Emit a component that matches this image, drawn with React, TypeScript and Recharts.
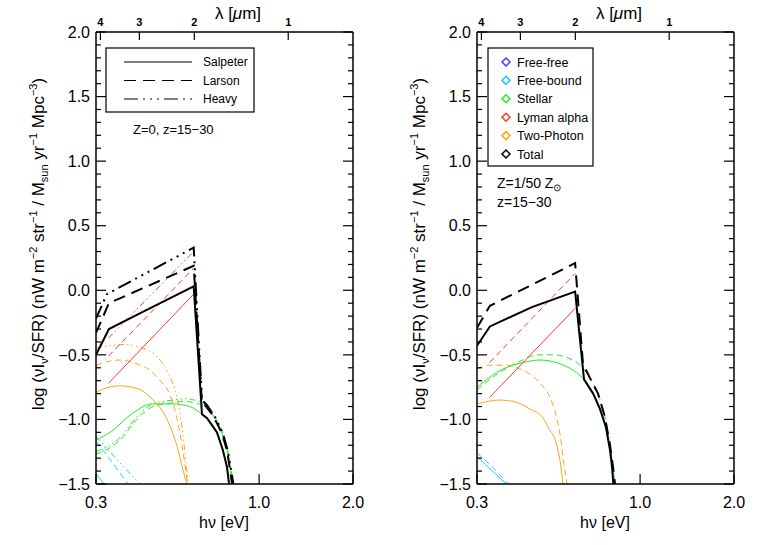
import { Line, LineChart, XAxis, YAxis } from "recharts";

const FONT = "'Liberation Sans', Arial, sans-serif";

// axes
const energyTicks = [0.3, 1.0, 2.0];
const lambdaTicks = [4, 3, 2, 1]; // micron
const HC = 1.23984; // eV * micron
const yTicks = Array.from({ length: 36 }, (_, i) => Math.round((-1.5 + i * 0.1) * 10) / 10);

// ---- Z=0, z=15-30 (left) : [hv in eV, log value] ----
const totSalL = [[0.3, -0.5], [0.33, -0.3], [0.43, -0.16], [0.617, 0.03], [0.656, -0.96], [0.681, -0.99], [0.733, -1.1], [0.766, -1.24], [0.789, -1.37], [0.801, -1.5]];
const totLarL = [[0.3, -0.33], [0.33, -0.1], [0.617, 0.19], [0.656, -0.88], [0.671, -0.89], [0.712, -0.97], [0.761, -1.11], [0.789, -1.24], [0.807, -1.39], [0.819, -1.5]];
const totHvyL = [[0.3, -0.22], [0.325, -0.03], [0.617, 0.33], [0.656, -0.85], [0.681, -0.89], [0.722, -0.98], [0.766, -1.11], [0.795, -1.25], [0.813, -1.39], [0.827, -1.5]];
const lyaSalL = [[0.329, -0.72], [0.617, -0.03]];
const lyaLarL = [[0.329, -0.51], [0.617, 0.17]];
const lyaHvyL = [[0.329, -0.37], [0.617, 0.3]];
const tpSalL = [[0.3, -0.79], [0.33, -0.75], [0.358, -0.74], [0.406, -0.76], [0.457, -0.85], [0.507, -1.0], [0.546, -1.21], [0.57, -1.39], [0.587, -1.5]];
const tpLarL = [[0.3, -0.58], [0.33, -0.55], [0.358, -0.54], [0.406, -0.57], [0.447, -0.62], [0.481, -0.7], [0.518, -0.81], [0.538, -0.93], [0.566, -1.2], [0.59, -1.5]];
const tpHvyL = [[0.3, -0.45], [0.33, -0.43], [0.366, -0.42], [0.437, -0.46], [0.481, -0.54], [0.518, -0.67], [0.546, -0.83], [0.558, -0.95], [0.575, -1.2], [0.592, -1.5]];
const stSalL = [[0.3, -1.16], [0.333, -1.1], [0.394, -0.95], [0.454, -0.88], [0.53, -0.88], [0.6, -0.9], [0.656, -0.96], [0.681, -0.99], [0.733, -1.11], [0.766, -1.24], [0.789, -1.37], [0.801, -1.5]];
const stLarL = [[0.3, -1.27], [0.358, -1.16], [0.409, -0.99], [0.457, -0.9], [0.53, -0.87], [0.58, -0.86], [0.64, -0.88], [0.671, -0.89], [0.712, -0.97], [0.761, -1.11], [0.789, -1.24], [0.807, -1.39], [0.819, -1.5]];
const stHvyL = [[0.3, -1.25], [0.358, -1.14], [0.409, -0.97], [0.457, -0.88], [0.53, -0.85], [0.58, -0.84], [0.64, -0.86], [0.681, -0.89], [0.722, -0.98], [0.766, -1.11], [0.795, -1.25], [0.813, -1.39], [0.827, -1.5]];
const fbSalL = [[0.3, -1.42], [0.318, -1.5]];
const fbLarL = [[0.3, -1.17], [0.34, -1.34], [0.38, -1.5]];
const fbHvyL = [[0.3, -1.13], [0.35, -1.31], [0.415, -1.5]];

// ---- Z=1/50 Zsun, z=15-30 (right) ----
const totSalR = [[0.3, -0.43], [0.33, -0.28], [0.45, -0.13], [0.619, -0.01], [0.661, -0.69], [0.707, -0.8], [0.744, -0.92], [0.777, -1.06], [0.801, -1.24], [0.813, -1.37], [0.821, -1.5]];
const totLarR = [[0.3, -0.29], [0.33, -0.12], [0.619, 0.21], [0.656, -0.57], [0.691, -0.68], [0.733, -0.8], [0.771, -0.98], [0.801, -1.2], [0.819, -1.37], [0.831, -1.5]];
const lyaSalR = [[0.329, -0.83], [0.619, -0.14]];
const lyaLarR = [[0.329, -0.56], [0.619, 0.13]];
const stSalR = [[0.3, -0.75], [0.363, -0.61], [0.421, -0.56], [0.478, -0.54], [0.554, -0.57], [0.61, -0.62], [0.642, -0.66], [0.661, -0.69], [0.707, -0.8], [0.744, -0.92], [0.777, -1.06], [0.801, -1.24], [0.813, -1.37], [0.821, -1.5]];
const stLarR = [[0.3, -0.77], [0.363, -0.62], [0.421, -0.54], [0.467, -0.5], [0.526, -0.5], [0.596, -0.53], [0.642, -0.58], [0.691, -0.68], [0.733, -0.8], [0.771, -0.98], [0.801, -1.2], [0.819, -1.37], [0.831, -1.5]];
const tpSalR = [[0.3, -0.88], [0.355, -0.85], [0.391, -0.86], [0.444, -0.92], [0.489, -0.99], [0.507, -1.06], [0.542, -1.21], [0.556, -1.35], [0.566, -1.5]];
const tpLarR = [[0.3, -0.61], [0.33, -0.58], [0.374, -0.58], [0.412, -0.61], [0.444, -0.65], [0.478, -0.72], [0.514, -0.83], [0.542, -1.0], [0.554, -1.12], [0.566, -1.29], [0.583, -1.5]];
const fbSalR = [[0.3, -1.29], [0.34, -1.41], [0.372, -1.5]];
const fbLarR = [[0.3, -1.26], [0.34, -1.38], [0.378, -1.5]];

const imfNames = ["Salpeter", "Larson", "Heavy"];
const compNames = ["Free-free", "Free-bound", "Stellar", "Lyman alpha", "Two-Photon", "Total"];

const BLACK = "#000";
const RED = "#ff3a2a";
const ORANGE = "#ffa31a";
const GREEN = "#22ee22";
const CYAN = "#22c8ff";
const BLUE = "#5533ff";
const compColors = [BLUE, CYAN, GREEN, RED, ORANGE, BLACK];

// black dash styles per IMF, thin versions for components
const bigDash = [undefined, "12 7", "14 5 2 5 2 5 2 5"];
const thinDash = [undefined, "6 4", "6 3 1.5 3 1.5 3 1.5 3"];

type Series = { pts: number[][]; color: string; dash?: string; w: number; curve: "linear" | "monotone" };

const build = (groups: number[][][][], colors: string[], black: number[][][]): Series[] => {
  const out: Series[] = [];
  groups.forEach((g, gi) =>
    g.forEach((pts, i) =>
      out.push({ pts, color: colors[gi], dash: thinDash[i], w: 1, curve: colors[gi] === RED ? "linear" : "monotone" })
    )
  );
  black.forEach((pts, i) => out.push({ pts, color: BLACK, dash: bigDash[i], w: 2, curve: "linear" }));
  return out;
};

const leftSeries = build(
  [[fbSalL, fbLarL, fbHvyL], [stSalL, stLarL, stHvyL], [tpSalL, tpLarL, tpHvyL], [lyaSalL, lyaLarL, lyaHvyL]],
  [CYAN, GREEN, ORANGE, RED],
  [totSalL, totLarL, totHvyL]
);
const rightSeries = build(
  [[fbSalR, fbLarR], [stSalR, stLarR], [tpSalR, tpLarR], [lyaSalR, lyaLarR]],
  [CYAN, GREEN, ORANGE, RED],
  [totSalR, totLarR]
);

const toData = (pts: number[][]) => pts.map(([e, y]) => ({ e, y }));
const fmt = (v: number) => v.toFixed(1).replace("-", "\u2212");

const LeftTick = (p: any) => {
  const v = p.payload.value;
  const major = Math.abs(v * 2 - Math.round(v * 2)) < 1e-6;
  return (
    <g>
      <line x1={p.x} y1={p.y} x2={p.x + (major ? 10 : 5)} y2={p.y} stroke={BLACK} strokeWidth={1.2} />
      {major && (
        <text x={p.x - 6} y={p.y} dy="0.36em" textAnchor="end" fontSize={16} fontFamily={FONT} fill={BLACK}>
          {fmt(v)}
        </text>
      )}
    </g>
  );
};

const RightTick = (p: any) => {
  const v = p.payload.value;
  const major = Math.abs(v * 2 - Math.round(v * 2)) < 1e-6;
  return <line x1={p.x} y1={p.y} x2={p.x - (major ? 10 : 5)} y2={p.y} stroke={BLACK} strokeWidth={1.2} />;
};

const BottomTick = (p: any) => (
  <g>
    <line x1={p.x} y1={p.y} x2={p.x} y2={p.y - 10} stroke={BLACK} strokeWidth={1.2} />
    <text x={p.x} y={p.y + 24} textAnchor="middle" fontSize={16} fontFamily={FONT} fill={BLACK}>
      {p.payload.value.toFixed(1)}
    </text>
  </g>
);

const TopTick = (p: any) => (
  <g>
    <line x1={p.x} y1={p.y} x2={p.x} y2={p.y + 8} stroke={BLACK} strokeWidth={1.2} />
    <text x={p.x} y={p.y - 6} textAnchor="middle" fontSize={11} fontWeight="bold" fontFamily={FONT} fill={BLACK}>
      {Math.round(HC / p.payload.value)}
    </text>
  </g>
);

const axisLine = { stroke: BLACK, strokeWidth: 1.5 };

// axes are 1px thick so they render; margins are reduced by 1 to keep the plot box at the same place
function Panel({ series, left, width, right }: { series: Series[]; left: number; width: number; right: number }) {
  return (
    <div style={{ position: "absolute", left, top: 0 }}>
      <LineChart width={width} height={545} margin={{ top: 31, bottom: 60, left: 95, right }}>
        <XAxis
          xAxisId="b" dataKey="e" type="number" scale="log" domain={[0.3, 2]} allowDataOverflow
          ticks={energyTicks} interval={0} height={1} tickSize={0} tickMargin={0} tickLine={false}
          axisLine={axisLine} tick={(p: any) => <BottomTick {...p} />}
        />
        <XAxis
          xAxisId="t" orientation="top" dataKey="e" type="number" scale="log" domain={[0.3, 2]} allowDataOverflow
          ticks={lambdaTicks.map((l) => HC / l)} interval={0} height={1} tickSize={0} tickMargin={0} tickLine={false}
          axisLine={axisLine} tick={(p: any) => <TopTick {...p} />}
        />
        <YAxis
          yAxisId="l" type="number" domain={[-1.5, 2]} allowDataOverflow ticks={yTicks} interval={0}
          width={1} tickSize={0} tickMargin={0} tickLine={false} axisLine={axisLine}
          tick={(p: any) => <LeftTick {...p} />}
        />
        <YAxis
          yAxisId="r" orientation="right" type="number" domain={[-1.5, 2]} allowDataOverflow ticks={yTicks} interval={0}
          width={1} tickSize={0} tickMargin={0} tickLine={false} axisLine={axisLine}
          tick={(p: any) => <RightTick {...p} />}
        />
        <Line xAxisId="t" yAxisId="r" data={toData(series[series.length - 1].pts)} dataKey="y" stroke="none" dot={false} isAnimationActive={false} />
        {series.map((s, i) => (
          <Line
            key={i} xAxisId="b" yAxisId="l" data={toData(s.pts)} dataKey="y" type={s.curve}
            stroke={s.color} strokeWidth={s.w} strokeDasharray={s.dash} dot={false} activeDot={false}
            isAnimationActive={false}
          />
        ))}
      </LineChart>
    </div>
  );
}

const YLabel = ({ x }: { x: number }) => (
  <text transform={`translate(${x},244) rotate(-90)`} textAnchor="middle" fontSize={17} fill={BLACK}>
    log (νI<tspan dy={4} fontSize={11}>ν</tspan>
    <tspan dy={-4}>/SFR) (nW m</tspan>
    <tspan dy={-7} fontSize={11}>−2</tspan>
    <tspan dy={7}> str</tspan>
    <tspan dy={-7} fontSize={11}>−1</tspan>
    <tspan dy={7}> / M</tspan>
    <tspan dy={4} fontSize={11}>sun</tspan>
    <tspan dy={-4}> yr</tspan>
    <tspan dy={-7} fontSize={11}>−1</tspan>
    <tspan dy={7}> Mpc</tspan>
    <tspan dy={-7} fontSize={11}>−3</tspan>
    <tspan dy={7}>)</tspan>
  </text>
);

function Overlay() {
  return (
    <svg width={763} height={545} fontFamily={FONT} style={{ position: "absolute", left: 0, top: 0, pointerEvents: "none" }}>
      {[0, 381].map((dx) => (
        <g key={dx}>
          <text x={238 + dx} y={19} textAnchor="middle" fontSize={17} fill={BLACK}>
            λ [<tspan fontStyle="italic">μ</tspan>m]
          </text>
          <text x={224 + dx} y={528} textAnchor="middle" fontSize={16} fill={BLACK}>hν [eV]</text>
          <YLabel x={44 + dx} />
        </g>
      ))}
      {/* IMF legend (left) */}
      <rect x={106} y={48} width={148} height={64} fill="#fff" stroke={BLACK} strokeWidth={1.2} />
      {imfNames.map((n, i) => (
        <g key={n}>
          <line x1={124} x2={192} y1={62 + i * 18.5} y2={62 + i * 18.5} stroke={BLACK} strokeWidth={1.2} strokeDasharray={bigDash[i]} />
          <text x={203} y={66 + i * 18.5} fontSize={12} fill={BLACK}>{n}</text>
        </g>
      ))}
      <text x={133} y={134} fontSize={13} fill={BLACK}>Z=0, z=15−30</text>
      {/* component legend (right) */}
      <rect x={488} y={48} width={105} height={118} fill="#fff" stroke={BLACK} strokeWidth={1.2} />
      {compNames.map((n, i) => {
        const cy = 62 + i * 18.4;
        return (
          <g key={n}>
            <path d={`M506 ${cy - 4} L510 ${cy} L506 ${cy + 4} L502 ${cy} Z`} fill="none" stroke={compColors[i]} strokeWidth={1.5} />
            <text x={517} y={cy + 4.5} fontSize={12.5} fill={BLACK}>{n}</text>
          </g>
        );
      })}
      <text x={497} y={188} fontSize={14} fill={BLACK}>
        Z=1/50 Z<tspan dy={3} fontSize={10}>⊙</tspan>
      </text>
      <text x={497} y={207} fontSize={14} fill={BLACK}>z=15−30</text>
    </svg>
  );
}

export default function App() {
  return (
    <div style={{ position: "absolute", left: 0, top: 0, width: 763, height: 545, background: "#fff", fontFamily: FONT }}>
      <Panel series={leftSeries} left={0} width={381} right={27} />
      <Panel series={rightSeries} left={381} width={382} right={28} />
      <Overlay />
    </div>
  );
}
